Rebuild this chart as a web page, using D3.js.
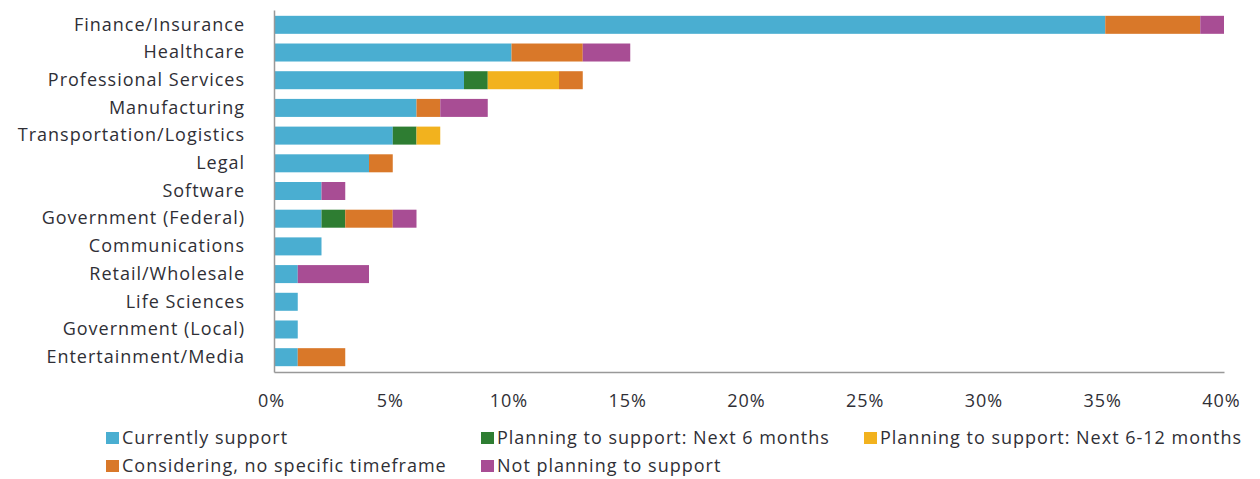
<!DOCTYPE html>
<html>
<head>
<meta charset="utf-8">
<script src="https://cdn.jsdelivr.net/npm/d3@7"></script>
<style>
  html, body { margin: 0; padding: 0; background: #fff; }
  svg { display: block; }
  text { font-family: "Open Sans", sans-serif; fill: #2f2f36; letter-spacing: 1px; }
</style>
</head>
<body>
<svg id="chart" width="1260" height="479"></svg>
<script>
// Industry categories, top to bottom
const categories = [
  "Finance/Insurance", "Healthcare", "Professional Services", "Manufacturing",
  "Transportation/Logistics", "Legal", "Software", "Government (Federal)",
  "Communications", "Retail/Wholesale", "Life Sciences", "Government (Local)",
  "Entertainment/Media"
];

// Share of respondents (%) per support status, in category order
const currentlySupport   = [35, 10, 8, 6, 5, 4, 2, 2, 2, 1, 1, 1, 1];
const planningNext6      = [0, 0, 1, 0, 1, 0, 0, 1, 0, 0, 0, 0, 0];
const planningNext6to12  = [0, 0, 3, 0, 1, 0, 0, 0, 0, 0, 0, 0, 0];
const consideringNoTime  = [4, 3, 1, 1, 0, 1, 0, 2, 0, 0, 0, 0, 2];
const notPlanning        = [1, 2, 0, 2, 0, 0, 1, 1, 0, 3, 0, 0, 0];

const seriesNames = [
  "Currently support",
  "Planning to support: Next 6 months",
  "Planning to support: Next 6-12 months",
  "Considering, no specific timeframe",
  "Not planning to support"
];
const seriesColors = ["#4aaed1", "#2e7d32", "#f2b21e", "#d97829", "#a84d94"];

const xTicks = [0, 5, 10, 15, 20, 25, 30, 35, 40];

// Build rows for the stack layout
const seriesValues = [currentlySupport, planningNext6, planningNext6to12, consideringNoTime, notPlanning];
const rows = categories.map((c, i) => {
  const r = { category: c };
  seriesNames.forEach((s, k) => { r[s] = seriesValues[k][i]; });
  return r;
});

const svg = d3.select("#chart");

const x = d3.scaleLinear().domain([0, 40]).range([274, 1224]);
const y = d3.scaleBand().domain(categories).range([10, 372])
  .paddingInner(0.35).paddingOuter(0.21);
const color = d3.scaleOrdinal().domain(seriesNames).range(seriesColors);

const stacked = d3.stack().keys(seriesNames)(rows);

// Stacked bars
svg.append("g").selectAll("g")
  .data(stacked)
  .join("g")
  .attr("fill", d => color(d.key))
  .selectAll("rect")
  .data(d => d.filter(p => p[1] > p[0]))
  .join("rect")
  .attr("x", d => x(d[0]))
  .attr("y", d => y(d.data.category))
  .attr("width", d => x(d[1]) - x(d[0]))
  .attr("height", y.bandwidth());

// Category axis
const yAxis = svg.append("g")
  .attr("transform", "translate(274,0)")
  .call(d3.axisLeft(y).tickSize(0).tickPadding(29));
yAxis.select(".domain").attr("stroke", "#999").attr("stroke-width", 1.5);
yAxis.selectAll("text")
  .style("font-size", "18px")
  .style("fill", "#2f2f36");

// Value axis
const xAxis = svg.append("g")
  .attr("transform", "translate(0,372)")
  .call(d3.axisBottom(x).tickValues(xTicks).tickSize(0).tickPadding(22)
    .tickFormat(d => d + "%"));
xAxis.select(".domain").attr("stroke", "#999").attr("stroke-width", 1.5);
xAxis.selectAll("text")
  .style("font-size", "18px")
  .style("fill", "#2f2f36")
  .attr("dx", "-3");

// Legend
const legendPos = [
  [106, 432], [481, 432], [864, 432],
  [106, 460], [481, 460]
];
const legend = svg.append("g").selectAll("g")
  .data(seriesNames)
  .join("g")
  .attr("transform", (d, i) => `translate(${legendPos[i][0]},${legendPos[i][1]})`);
legend.append("rect")
  .attr("width", 13).attr("height", 12)
  .attr("fill", d => color(d));
legend.append("text")
  .attr("x", 16).attr("y", 12)
  .style("font-size", "18px")
  .text(d => d);
</script>
</body>
</html>
